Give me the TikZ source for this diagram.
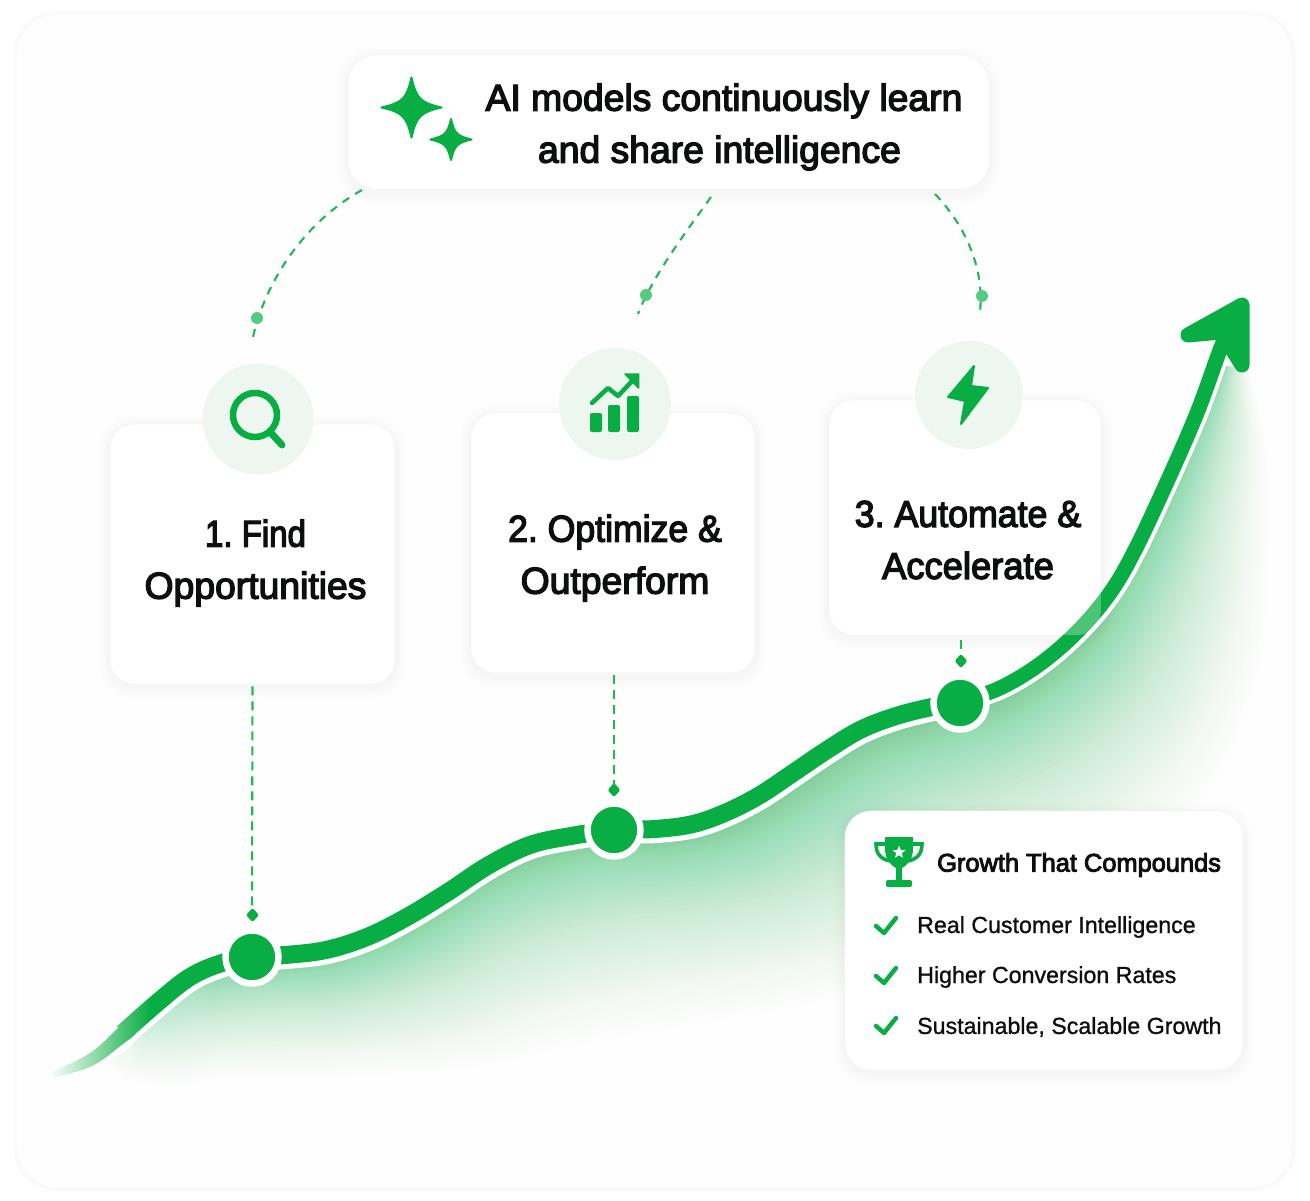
\documentclass[tikz,border=0pt]{standalone}
\usepackage{graphicx}
\usepackage{fontspec}
\usetikzlibrary{fadings}
\setmainfont{Liberation Sans}
\newfontfamily\hfont[FakeBold=3.6]{Liberation Sans}
\newfontfamily\pfont[FakeBold=3.6]{Liberation Sans}
\newfontfamily\ifont[FakeBold=1]{Liberation Sans}
\frenchspacing
\definecolor{gr}{HTML}{08AE44}
\definecolor{grb}{HTML}{04BE4C}
\definecolor{grl}{HTML}{1DB954}
\definecolor{dotg}{HTML}{55CB82}
\definecolor{halo}{HTML}{EEF6F0}
\definecolor{bgc}{HTML}{FEFEFE}
\definecolor{ink}{HTML}{0C0F0D}
\tikzfading[name=fadeR,left color=transparent!0,right color=transparent!100]
\tikzset{
 cardbox/.style={draw=black!4,line width=.6pt,fill=white,rounded corners=24pt,inner sep=0pt},
 headtxt/.style={text=ink,font=\hfont\fontsize{37.3}{52}\selectfont,align=center,inner sep=0pt},
 itemtxt/.style={text=ink,font=\ifont\fontsize{23.2}{28}\selectfont,anchor=west,inner sep=0pt},
 link/.style={draw=grl,line width=2.1pt,dash pattern=on 8pt off 7pt},
 vlink/.style={draw=grl,line width=2.1pt,dash pattern=on 9pt off 6pt},
 halodisc/.style={circle,fill=halo,inner sep=0pt},
 knot/.style={circle,fill=gr,draw=white,line width=6.5pt,minimum size=53pt,inner sep=0pt},
 dotm/.style={circle,fill=dotg,minimum size=12pt,inner sep=0pt},
 icon/.style={fill=gr,draw=gr,line join=round},
 tick/.style={draw=gr,line width=4.4pt,line cap=round,line join=round},
}
\newcommand{\softshadow}[5]{%
 \foreach \w in {22,16,11,6}{%
  \draw[line width=\w pt,draw=black!70!green,opacity=.009,rounded corners=#5 pt]
   (#1,#2+3) rectangle (#3,#4+3);}}
\newcommand{\sparkle}[3]{% cx cy R
 \fill[gr,draw=gr,line width=2pt,line join=round]
 (#1,#2-#3) .. controls (#1+.16*#3,#2-.3*#3) and (#1+.3*#3,#2-.16*#3) .. (#1+#3,#2)
 .. controls (#1+.3*#3,#2+.16*#3) and (#1+.16*#3,#2+.3*#3) .. (#1,#2+#3)
 .. controls (#1-.16*#3,#2+.3*#3) and (#1-.3*#3,#2+.16*#3) .. (#1-#3,#2)
 .. controls (#1-.3*#3,#2-.16*#3) and (#1-.16*#3,#2-.3*#3) .. cycle;}
\newcommand{\dropmark}[2]{%
 \fill[gr,rounded corners=1.5pt] (#1,#2-7) -- (#1+6.5,#2) -- (#1,#2+7) -- (#1-6.5,#2) -- cycle;}
\def\curveA{(123,1033)(157,1003)(190,977)(222,963)(252,957)(285,955)(326,950)(367,937)(407,917)(448,892)(489,865)(530,845)(571,836)(614,830)(655,829)(693,824)(727,812)(760,795)(793,773)(827,750)(860,730)(893,717)(927,708)(960,702)}
\def\curveB{(960,702)(1000,688)(1040,664)(1078,631)(1110,593)(1135,550)(1167,482)(1197,413)(1220,350)(1232,322)}
\begin{document}
\begin{tikzpicture}[x=1pt,y=-1pt]
\useasboundingbox (0,0) rectangle (1310,1201);
% outer panel
\fill[white] (0,0) rectangle (1310,1201);
\draw[line width=5pt,draw=black!2,rounded corners=40pt] (16,14) rectangle (1293,1188);
\fill[bgc,rounded corners=40pt] (17,15) rectangle (1292,1187);
% top card
\softshadow{348}{55}{989}{189}{28}
\node[cardbox,rounded corners=28pt,minimum width=641pt,minimum height=134pt] (topc) at (668.5,122) {};
% dashed arcs
\coordinate (a1s) at (362,190); \coordinate (a1e) at (253,337);
\coordinate (a2s) at (711,197); \coordinate (a2e) at (638,314);
\coordinate (a3s) at (935,194); \coordinate (a3e) at (980,312);
\draw[link] (a1s) .. controls (305,222) and (266,280) .. (a1e);
\draw[link] (a2s) .. controls (680,240) and (652,278) .. (a2e);
\draw[link] (a3s) .. controls (962,222) and (985,265) .. (a3e);
\node[dotm] (d1) at (257,318) {};
\node[dotm] (d2) at (646,295) {};
\node[dotm] (d3) at (982,296) {};
% cards
\softshadow{110}{424}{395}{684}{25}
\softshadow{471}{413}{755}{673}{25}
\softshadow{829}{400}{1101}{635}{25}
\node[cardbox,minimum width=285pt,minimum height=260pt] (c1) at (252.5,554) {};
\node[cardbox,minimum width=284pt,minimum height=260pt] (c2) at (613,543) {};
\node[cardbox,minimum width=272pt,minimum height=235pt] (c3) at (965,517.5) {};
% shaded area under curve
\foreach \i in {1,...,45}{%
 \pgfmathsetmacro{\t}{.98*pow(\i/45,1.6)}
 \pgfmathsetmacro{\op}{.008+.014*(1-\i/45)}
 \fill[grb,opacity=\op] plot[smooth,tension=.6] coordinates {(100,1055)(157,1008)(203,971)(252,960)(326,953)(407,920)(489,868)(571,840)(652,835)(727,820)(793,781)(860,738)(927,716)(1000,695)(1078,636)(1130,553)(1167,485)(1197,418)(1222,365)}
 -- plot[smooth,tension=.6] coordinates {({1222+\t*28},{365+\t*5})({1197+\t*71},{418+\t*34})({1167+\t*103},{485+\t*57})({1130+\t*135},{553+\t*100})({1078+\t*152},{636+\t*127})({1000+\t*170},{695+\t*149})({927+\t*170},{716+\t*190})({860+\t*180},{738+\t*190})({793+\t*170},{781+\t*185})({727+\t*140},{820+\t*175})({652+\t*120},{835+\t*180})({571+\t*110},{840+\t*190})({489+\t*90},{868+\t*180})({407+\t*70},{920+\t*150})({326+\t*45},{953+\t*125})({252+\t*18},{960+\t*120})({203+\t*12},{971+\t*110})({157+\t*20},{1008+\t*80})({100+\t*25},{1055+\t*25})} -- cycle;
}
\fill[bgc,path fading=fadeR] (90,960) rectangle (215,1120);
% curve
\draw[white,line width=18pt,xshift=2pt,yshift=-5pt] plot[smooth,tension=.6] coordinates {\curveA};
\fill[white] plot[smooth,tension=.6] coordinates {(48,1075)(92,1056)(125,1032)(136,1022)} -- plot[smooth,tension=.6] coordinates {(136,1040)(125,1051)(92,1071)(48,1085)} -- cycle;
\draw[white,line width=15pt,line cap=round,xshift=3pt,yshift=-3pt] plot[smooth,tension=.6] coordinates {\curveB};
\fill[gr] plot[smooth,tension=.6] coordinates {(46,1074)(90,1053)(123,1023)(135,1012)} -- plot[smooth,tension=.6] coordinates {(135,1034)(123,1044)(90,1067)(46,1079)} -- cycle;
\draw[gr,line width=18pt] plot[smooth,tension=.6] coordinates {\curveA};
\draw[gr,line width=15pt] plot[smooth,tension=.6] coordinates {\curveB};
\fill[gr,draw=gr,line width=15pt,line join=round] (1188,335) -- (1242,305) -- (1242,365) -- (1221,332) -- cycle;
% fade of the left end
\fill[bgc] (40,1050) rectangle (52,1095);
\fill[bgc,path fading=fadeR] (50,1000) rectangle (150,1100);
% card 3 lies over the curve
\begin{scope}
\clip[rounded corners=24pt] (829,400) rectangle (1101,635);
\fill[white,opacity=.28] (829,400) rectangle (1101,635);
\end{scope}
% icon discs
\node[halodisc,minimum size=111pt] (h1) at (258,419) {};
\node[halodisc,minimum size=112pt] (h2) at (615,404) {};
\node[halodisc,minimum size=108pt] (h3) at (969,395) {};
% knots
\node[knot] (k1) at (252,957) {};
\node[knot] (k2) at (614,830) {};
\node[knot] (k3) at (960,703) {};
% vertical connectors
\coordinate (m1) at (252,908); \coordinate (m2) at (614,784); \coordinate (m3) at (961,655);
\draw[vlink] (c1.south) ++(0,2) -- (m1);
\draw[vlink] (c2.south) ++(1,2) -- (m2);
\draw[vlink] (961,640) -- (m3);
\dropmark{252.5}{915}
\dropmark{614}{790}
\dropmark{961}{661}
% sparkles
\sparkle{411.5}{107.5}{30}
\sparkle{451}{139.5}{20.5}
% magnifier
\draw[gr,line width=6.5pt] (255,415) circle (22pt);
\draw[gr,line width=7pt,line cap=round] (271,433) -- (282,445);
% chart
\fill[gr,rounded corners=2pt] (590,413) rectangle (602,432);
\fill[gr,rounded corners=2pt] (608,405) rectangle (620,432);
\fill[gr,rounded corners=2pt] (627,396) rectangle (639,432);
\draw[gr,line width=4.5pt,line cap=round,line join=round] (592,403) -- (608,388) -- (618,396) -- (633,380);
\fill[icon,line width=1.5pt] (625,374) -- (638.5,374) -- (638.5,388) -- cycle;
% bolt
\fill[icon,line width=2pt] (974,366) -- (948,397) -- (965,401) -- (961,424) -- (988,388) -- (971,386) -- cycle;
% result card
\softshadow{845}{811}{1243}{1070}{26}
\node[cardbox,rounded corners=26pt,minimum width=398pt,minimum height=259pt] (c4) at (1044,940.5) {};
% trophy
\fill[gr] (885,837) -- (913,837) -- (913,849) .. controls (913,860) and (906,866) .. (902,868) -- (902,880) -- (896,880) -- (896,868) .. controls (892,866) and (885,860) .. (885,849) -- cycle;
\draw[gr,line width=3.6pt] (885,844) -- (876,844) .. controls (876,854) and (881,859) .. (890,861);
\draw[gr,line width=3.6pt] (913,844) -- (922,844) .. controls (922,854) and (917,859) .. (908,861);
\fill[gr,rounded corners=2pt] (886,880) rectangle (912,887);
\fill[white] (899,845.5) -- (900.8,850) -- (905.5,850.3) -- (901.8,853.2) -- (903,857.8) -- (899,855.2) -- (895,857.8) -- (896.2,853.2) -- (892.5,850.3) -- (897.2,850) -- cycle;
% checks
\foreach \dy in {0,50,100}{\draw[tick] (876,{926+\dy}) -- (884,{933+\dy}) -- (896,{918+\dy});}
% text
\node[headtxt] (ttop) at (724,127) {AI models continuously learn\\\hspace*{-9pt}and share intelligence};
\node[headtxt] (t1) at (255.5,563) {\scalebox{.885}[1]{1. Find}\\Opportunities};
\node[headtxt] (t2) at (615,558) {\scalebox{.955}[1]{2. Optimize \&}\\Outperform};
\node[headtxt] (t3) at (968,540) {\scalebox{.958}[1]{3. Automate \&}\\\scalebox{.975}[1]{Accelerate}};
\node[text=ink,font=\pfont\fontsize{25.4}{28}\selectfont,anchor=west,inner sep=0pt] (thead) at (937,865) {Growth That Compounds};
\node[itemtxt] (i1) at (917,927) {Real Customer Intelligence};
\node[itemtxt] (i2) at (917,977) {Higher Conversion Rates};
\node[itemtxt] (i3) at (917,1027) {Sustainable, Scalable Growth};
\end{tikzpicture}
\end{document}
